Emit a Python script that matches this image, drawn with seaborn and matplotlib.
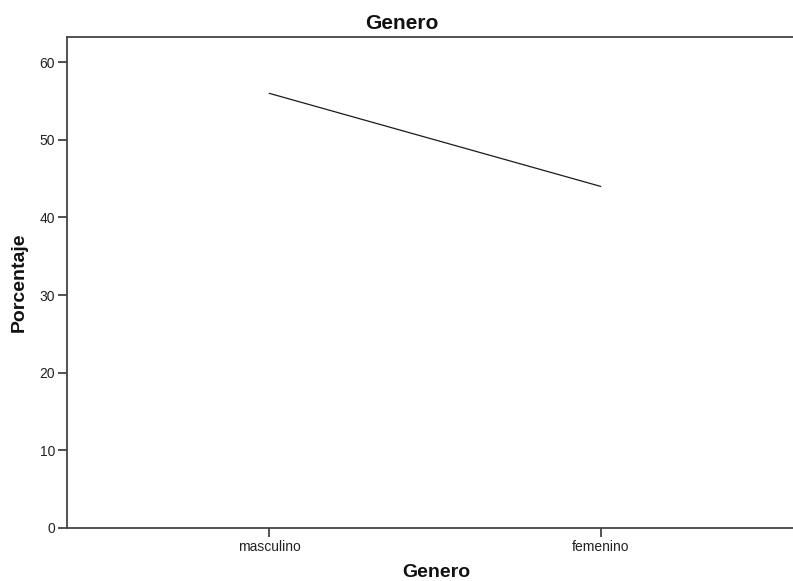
import matplotlib
matplotlib.use("Agg")
import matplotlib.pyplot as plt
import seaborn as sns
import pandas as pd

categories = ["masculino", "femenino"]
percentages = [56.0, 44.0]
y_ticks = [0, 10, 20, 30, 40, 50, 60]

df = pd.DataFrame({"Genero": categories, "Porcentaje": percentages})

sns.set_theme(style="white")
plt.rcParams['font.family'] = ['Liberation Sans', 'DejaVu Sans']

fig = plt.figure(figsize=(7.93, 5.81), dpi=100)
ax = fig.add_axes([0.0841, 0.0917, 1.0 - 0.0841, 0.9355 - 0.0917])

sns.lineplot(data=df, x="Genero", y="Porcentaje", ax=ax, color="#1a1a1a",
             linewidth=0.9, sort=False)

ax.set_xlim(-0.611, 1.58)
ax.set_ylim(0, 63.2)
ax.set_yticks(y_ticks)
ax.set_xticks(range(len(categories)))
ax.set_xticklabels(categories)

for side in ["left", "bottom", "top"]:
    ax.spines[side].set_color("#444444")
    ax.spines[side].set_linewidth(1.3)
ax.spines["right"].set_visible(False)

ax.tick_params(axis="both", direction="out", length=6.5, width=1.1,
               color="#222222", labelsize=10, labelcolor="#222222", pad=2,
               left=True, bottom=True)

ax.set_xlabel("Genero", fontsize=14, fontweight="bold", color="#111111")
ax.xaxis.set_label_coords(0.5085, -0.074, transform=ax.transAxes)
ax.xaxis.label.set_va("top")
ax.set_ylabel("Porcentaje", fontsize=14, fontweight="bold", labelpad=8, color="#111111")
ax.set_title("Genero", fontsize=15, fontweight="bold", pad=6, color="#111111", x=0.461)

fig.savefig("out.png", dpi=100)
